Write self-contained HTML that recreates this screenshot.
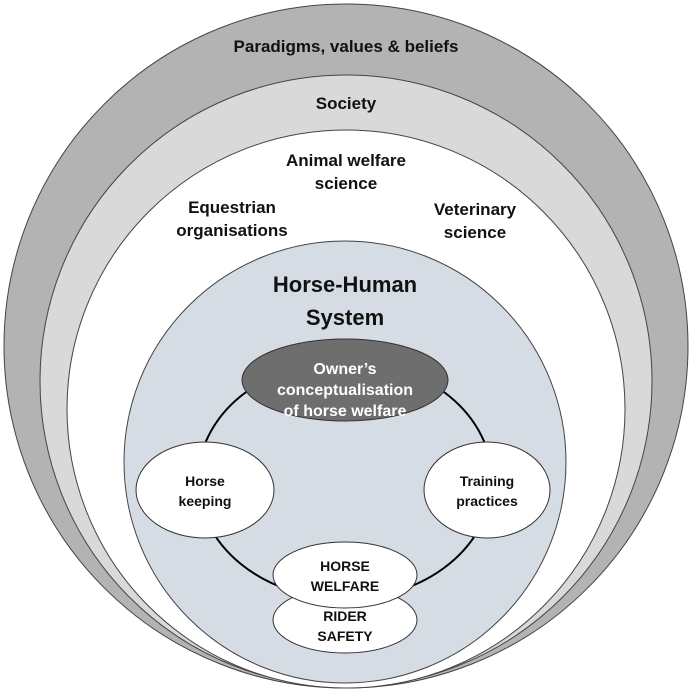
<!DOCTYPE html>
<html><head><style>html,body{margin:0;padding:0;background:#fff}</style></head>
<body>
<svg width="692" height="692" viewBox="0 0 692 692" xmlns="http://www.w3.org/2000/svg" font-family="Liberation Sans, Arial, sans-serif" font-weight="bold" text-anchor="middle">
<circle cx="346" cy="346" r="342" fill="#b3b3b3" stroke="#444" stroke-width="1"/>
<circle cx="346" cy="381" r="306" fill="#d9d9d9" stroke="#444" stroke-width="1"/>
<circle cx="346" cy="409" r="279" fill="#ffffff" stroke="#444" stroke-width="1"/>
<circle cx="345" cy="462" r="221" fill="#d6dce4" stroke="#444" stroke-width="1"/>
<g font-size="17" fill="#111">
<text x="346" y="52">Paradigms, values &amp; beliefs</text>
<text x="346" y="109">Society</text>
<text x="346" y="166">Animal welfare</text>
<text x="346" y="189">science</text>
<text x="232" y="213">Equestrian</text>
<text x="232" y="236">organisations</text>
<text x="475" y="215">Veterinary</text>
<text x="475" y="238">science</text>
</g>
<g font-size="22" fill="#111">
<text x="345" y="292">Horse-Human</text>
<text x="345" y="325">System</text>
</g>
<ellipse cx="345" cy="480" rx="147" ry="119" fill="none" stroke="#000" stroke-width="2"/>
<ellipse cx="345" cy="380" rx="103" ry="41" fill="#6e6e6e" stroke="#333" stroke-width="1"/>
<g font-size="16" fill="#fff">
<text x="345" y="374">Owner’s</text>
<text x="345" y="395">conceptualisation</text>
<text x="345" y="416">of horse welfare</text>
</g>
<ellipse cx="205" cy="490" rx="69" ry="48" fill="#fff" stroke="#333"/>
<ellipse cx="487" cy="490" rx="63" ry="48" fill="#fff" stroke="#333"/>
<ellipse cx="345" cy="620" rx="72" ry="33" fill="#fff" stroke="#333"/>
<ellipse cx="345" cy="575" rx="72" ry="33" fill="#fff" stroke="#333"/>
<g font-size="14" fill="#111">
<text x="205" y="486">Horse</text>
<text x="205" y="506">keeping</text>
<text x="487" y="486">Training</text>
<text x="487" y="506">practices</text>
<text x="345" y="571">HORSE</text>
<text x="345" y="591">WELFARE</text>
<text x="345" y="621">RIDER</text>
<text x="345" y="641">SAFETY</text>
</g>
</svg>
</body></html>
